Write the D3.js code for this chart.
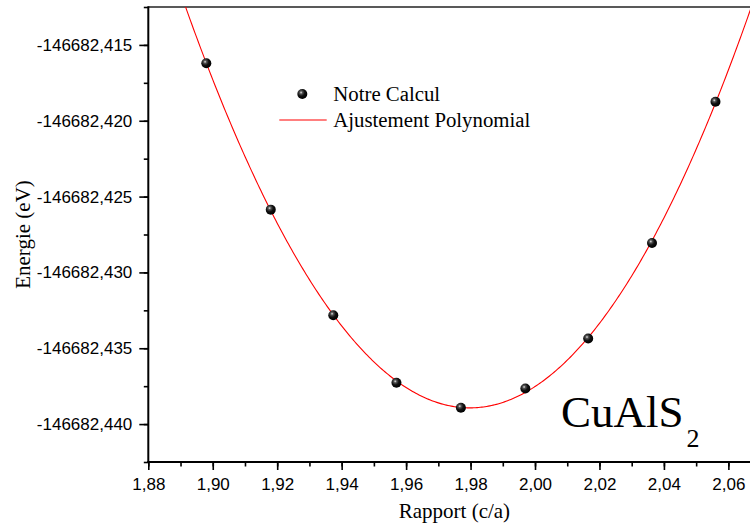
<!DOCTYPE html>
<html>
<head>
<meta charset="utf-8">
<script src="https://cdn.jsdelivr.net/npm/d3@7"></script>
<style>
  html, body { margin: 0; padding: 0; background: #fff; }
  svg { display: block; }
</style>
</head>
<body>
<div id="chart"></div>
<script>
// ---- Data ----
const ratioCA = [1.898, 1.918, 1.9374, 1.957, 1.977, 1.997, 2.0165, 2.0363, 2.056];
const energyEV = [-146682.41621, -146682.42586, -146682.43282, -146682.43728, -146682.43892,
                  -146682.43765, -146682.43436, -146682.42806, -146682.41875];
const xTickValues = [1.88, 1.90, 1.92, 1.94, 1.96, 1.98, 2.00, 2.02, 2.04, 2.06];
const yTickValues = [-146682.440, -146682.435, -146682.430, -146682.425, -146682.420, -146682.415];
const seriesNames = ["Notre Calcul", "Ajustement Polynomial"];
const xTitle = "Rapport (c/a)";
const yTitle = "Energie (eV)";
const compound = "CuAlS";
const compoundSub = "2";

// ---- Layout ----
const W = 750, H = 527;
const plotL = 148.3, plotT = 7, plotB = 462, plotR = 760.6;

const x = d3.scaleLinear().domain([1.88, 2.07]).range([plotL, plotR]);
const y = d3.scaleLinear().domain([-146682.4425, -146682.4125]).range([plotB, plotT]);

const loc = d3.formatLocale({decimal: ",", thousands: "", grouping: [3], currency: ["", ""], minus: "-"});
const fx = loc.format(".2f");
const fy = loc.format(".3f");

const svg = d3.select("#chart").append("svg")
  .attr("width", W).attr("height", H)
  .style("background", "#fff");

// gradient for spherical markers
const defs = svg.append("defs");
const grad = defs.append("radialGradient").attr("id", "ball")
  .attr("cx", "38%").attr("cy", "35%").attr("r", "65%");
grad.append("stop").attr("offset", "0%").attr("stop-color", "#e8e8e8");
grad.append("stop").attr("offset", "22%").attr("stop-color", "#555");
grad.append("stop").attr("offset", "55%").attr("stop-color", "#111");
grad.append("stop").attr("offset", "100%").attr("stop-color", "#000");

defs.append("clipPath").attr("id", "plotclip")
  .append("rect").attr("x", plotL).attr("y", plotT)
  .attr("width", plotR - plotL).attr("height", plotB - plotT);

// ---- Polynomial (cubic) least-squares fit of the data ----
function polyfit(xs, ys, deg) {
  const x0 = d3.mean(xs), y0 = d3.mean(ys);
  const n = deg + 1;
  const A = Array.from({length: n}, () => new Array(n + 1).fill(0));
  xs.forEach((xv, k) => {
    const u = xv - x0, v = ys[k] - y0;
    for (let i = 0; i < n; i++) {
      for (let j = 0; j < n; j++) A[i][j] += Math.pow(u, i + j);
      A[i][n] += Math.pow(u, i) * v;
    }
  });
  for (let i = 0; i < n; i++) {
    let p = i;
    for (let r = i + 1; r < n; r++) if (Math.abs(A[r][i]) > Math.abs(A[p][i])) p = r;
    [A[i], A[p]] = [A[p], A[i]];
    for (let r = 0; r < n; r++) {
      if (r === i) continue;
      const f = A[r][i] / A[i][i];
      for (let c = i; c <= n; c++) A[r][c] -= f * A[i][c];
    }
  }
  const coef = A.map((row, i) => row[n] / row[i]);
  return xv => { const u = xv - x0; let s = 0; for (let i = n - 1; i >= 0; i--) s = s * u + coef[i]; return s + y0; };
}
const fit = polyfit(ratioCA, energyEV, 3);
const fitXs = d3.range(1.88, 2.0701, 0.0005);

// ---- Axes ----
const tickStyle = g => {
  g.selectAll(".domain").remove();
  g.selectAll(".tick line").attr("stroke", "#000").attr("stroke-width", 1.6);
  g.selectAll(".tick text").attr("fill", "#000")
    .style("font-family", "'Liberation Sans', Arial, sans-serif").style("font-size", "17px");
};

// minor ticks
svg.append("g").attr("transform", `translate(${plotL},0)`)
  .call(d3.axisLeft(y).tickValues(d3.range(0, 13).map(i => -146682.4425 + i * 0.0025)).tickSize(4.5).tickFormat(""))
  .call(tickStyle);
svg.append("g").attr("transform", `translate(0,${plotB})`)
  .call(d3.axisBottom(x).tickValues(d3.range(0, 20).map(i => 1.88 + i * 0.01)).tickSize(4.5).tickFormat(""))
  .call(tickStyle);

// major ticks
svg.append("g").attr("transform", `translate(${plotL},0)`)
  .call(d3.axisLeft(y).tickValues(yTickValues).tickSize(9).tickPadding(7).tickFormat(fy))
  .call(tickStyle);
svg.append("g").attr("transform", `translate(0,${plotB})`)
  .call(d3.axisBottom(x).tickValues(xTickValues).tickSize(8).tickPadding(8).tickFormat(fx))
  .call(tickStyle);

// frame lines
svg.append("line").attr("x1", plotL).attr("x2", W).attr("y1", plotT).attr("y2", plotT)
  .attr("stroke", "#222").attr("stroke-width", 1.4);
svg.append("line").attr("x1", plotL).attr("x2", plotL).attr("y1", plotT - 0.7).attr("y2", plotB + 1)
  .attr("stroke", "#000").attr("stroke-width", 2);
svg.append("line").attr("x1", plotL - 1).attr("x2", W).attr("y1", plotB).attr("y2", plotB)
  .attr("stroke", "#000").attr("stroke-width", 2);

// ---- Fit curve ----
svg.append("path")
  .attr("clip-path", "url(#plotclip)")
  .attr("d", d3.line().x(d => x(d)).y(d => y(fit(d)))(fitXs))
  .attr("fill", "none").attr("stroke", "#ff0000").attr("stroke-width", 1.1);

// ---- Data points ----
svg.append("g").selectAll("circle").data(ratioCA).join("circle")
  .attr("cx", d => x(d)).attr("cy", (d, i) => y(energyEV[i])).attr("r", 5)
  .attr("fill", "url(#ball)");

// ---- Legend ----
const serif = "'Liberation Serif', 'Times New Roman', serif";
svg.append("circle").attr("cx", 302.3).attr("cy", 94).attr("r", 5).attr("fill", "url(#ball)");
svg.append("text").attr("x", 333.3).attr("y", 100.5).text(seriesNames[0])
  .style("font-family", serif).style("font-size", "20.8px").attr("fill", "#000");
svg.append("line").attr("x1", 279.3).attr("x2", 326.7).attr("y1", 120).attr("y2", 120)
  .attr("stroke", "#ff0000").attr("stroke-width", 1.1);
svg.append("text").attr("x", 333.3).attr("y", 126.5).text(seriesNames[1])
  .style("font-family", serif).style("font-size", "20.8px").attr("fill", "#000");

// ---- Axis titles ----
svg.append("text").attr("x", (plotL + plotR) / 2).attr("y", 518).attr("text-anchor", "middle")
  .text(xTitle).style("font-family", serif).style("font-size", "21px").attr("fill", "#000");
svg.append("text").attr("transform", `translate(30,${(plotT + plotB) / 2}) rotate(-90)`)
  .attr("text-anchor", "middle").text(yTitle)
  .style("font-family", serif).style("font-size", "21px").attr("fill", "#000");

// ---- Compound label ----
const lab = svg.append("text").attr("x", 561).attr("y", 427.3)
  .style("font-family", serif).attr("fill", "#000");
lab.append("tspan").text(compound).style("font-size", "45px");
lab.append("tspan").attr("dx", 3).attr("dy", 20).text(compoundSub).style("font-size", "26px");
</script>
</body>
</html>
